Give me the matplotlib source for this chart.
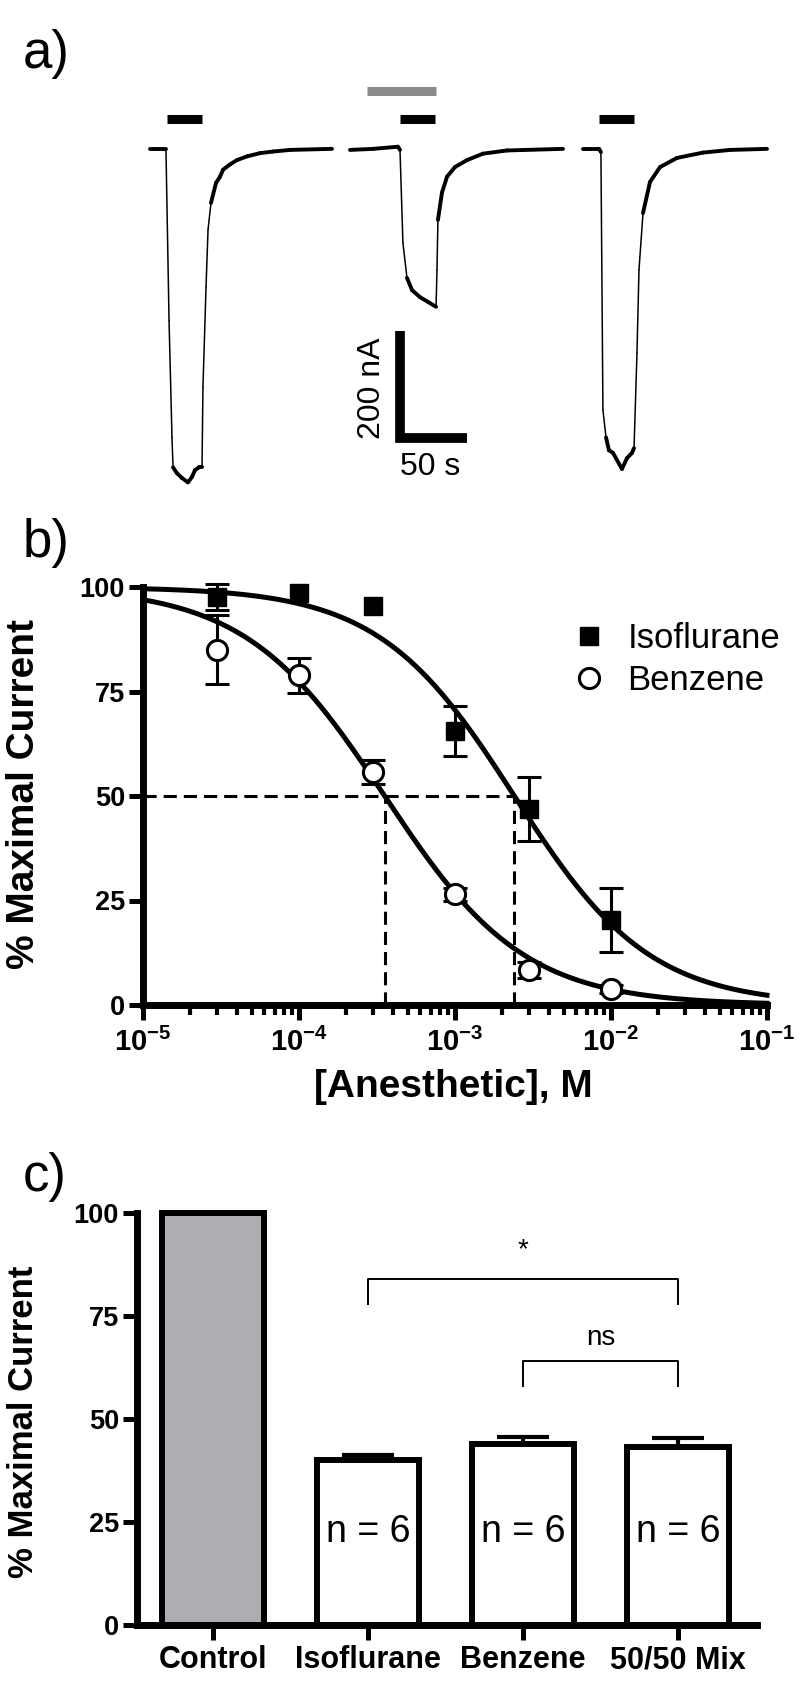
import numpy as np
import matplotlib
matplotlib.use('Agg')
import matplotlib.pyplot as plt
from matplotlib.collections import LineCollection
from matplotlib.ticker import LogLocator, NullFormatter

plt.rcParams['font.family'] = ['Liberation Sans', 'DejaVu Sans']
plt.rcParams['mathtext.fontset'] = 'custom'
plt.rcParams['mathtext.rm'] = 'Liberation Sans'
plt.rcParams['mathtext.bf'] = 'Liberation Sans:bold'

# ---- panel a: current traces (time in s, current in nA) ----
trace1_t = [0, 11.9, 14.2, 16.4, 17.2, 20.1, 23.9, 28.3, 31.3, 33.6, 36.6, 38.8, 39.5,
            41.8, 43.3, 45.5, 49.2, 52.2, 54.5, 59.7, 64.9, 72.4, 82.1, 91.8, 104.4, 135.8]
trace1_i = [0, 0, -320, -539, -595, -606, -615, -623, -613, -600, -595, -595, -445,
            -258, -151, -101, -64, -52, -39, -29, -21, -14, -8, -5, -2, 0]
trace2_t = [149.2, 166.4, 185.0, 186.5, 188.7, 191.7, 195.5, 201.4, 207.4, 213.4, 214.1,
            214.8, 217.8, 221.6, 227.5, 236.5, 248.4, 266.3, 308.1]
trace2_i = [-2, 0, 4, -2, -176, -241, -264, -277, -286, -295, -226, -133, -82, -52, -34,
            -21, -9, -3, 0]
trace3_t = [323.0, 335.0, 336.4, 337.9, 340.2, 342.4, 345.4, 352.1, 355.8, 359.6, 361.1,
            363.3, 364.8, 367.8, 373.0, 380.5, 393.1, 412.5, 432.7, 460.3]
trace3_i = [0, 0, -6, -488, -539, -563, -568, -598, -578, -568, -559, -381, -226, -120,
            -62, -34, -17, -7, -2, 0]
agonist_on = [12.7, 186.5, 335.0]
agonist_off = [38.8, 212.6, 361.1]
anesthetic_on = 161.9
anesthetic_off = 213.4
scale_nA = 200
scale_s = 50

# ---- panel b: concentration-response ----
conc = [3e-5, 1e-4, 3e-4, 1e-3, 3e-3, 1e-2]
iso_mean = [97.6, 98.6, 95.5, 65.6, 46.9, 20.3]
iso_sem = [3.2, 0.0, 0.0, 6.0, 7.6, 7.7]
benz_mean = [85.0, 78.9, 55.7, 26.5, 8.4, 3.8]
benz_sem = [8.3, 4.2, 2.8, 1.5, 2.0, 1.0]
iso_ic50, iso_hill = 2.4e-3, 1.0
benz_ic50, benz_hill = 3.54e-4, 0.97
decade_ticks = [1e-5, 1e-4, 1e-3, 1e-2, 1e-1]
decade_labels = [r'$\mathbf{10^{-5}}$', r'$\mathbf{10^{-4}}$', r'$\mathbf{10^{-3}}$',
                 r'$\mathbf{10^{-2}}$', r'$\mathbf{10^{-1}}$']
pct_ticks = [0, 25, 50, 75, 100]

# ---- panel c: bar chart ----
groups = ['Control', 'Isoflurane', 'Benzene', '50/50 Mix']
bar_mean = [100, 40.0, 44.0, 43.3]
bar_sem = [0, 1.3, 1.7, 2.0]
n_labels = ['', 'n = 6', 'n = 6', 'n = 6']
sig_pairs = [(1, 3), (2, 3)]
sig_top = [84.0, 64.1]
sig_text = ['*', 'ns']
sig_text_y = [91.0, 69.7]

W, H = 800, 1688
fig = plt.figure(figsize=(W / 100, H / 100), dpi=100)


def px_axes(l, t, r, b):
    return fig.add_axes([l / W, 1 - b / H, (r - l) / W, (b - t) / H])


# panel a
ax_a = px_axes(140, 60, 780, 500)
ax_a.set_xlim(-7.46, 470.0)
ax_a.set_ylim(-656, 166)
ax_a.axis('off')
for tt, ii in [(trace1_t, trace1_i), (trace2_t, trace2_i), (trace3_t, trace3_i)]:
    pts = np.column_stack([tt, ii])
    segs = np.stack([pts[:-1], pts[1:]], axis=1)
    slope = np.abs(np.diff(ii)) / np.diff(tt)
    # fast transitions look thin in the recording, slow parts thick
    widths = np.where(slope > 20, 1.1, 2.8)
    ax_a.add_collection(LineCollection(segs, linewidths=widths, colors='black',
                                       capstyle='round'))
ax_a.hlines([55] * 3, agonist_on, agonist_off, color='black', lw=6.5)
ax_a.hlines(107.5, anesthetic_on, anesthetic_off, color='#8a8a8a', lw=6.5)
t0, i0 = 186.5, -540
ax_a.plot([t0, t0, t0 + scale_s], [i0 + scale_nA, i0, i0], color='black', lw=7,
          solid_joinstyle='miter', solid_capstyle='butt')
ax_a.text(165.6, -447, '200 nA', rotation=90, ha='center', va='center', fontsize=23)
ax_a.text(209, -595, '50 s', ha='center', va='center', fontsize=23)

# panel b
ax_b = px_axes(143, 587, 767, 1005)
ax_b.set_xscale('log')
ax_b.set_xlim(1e-5, 1e-1)
ax_b.set_ylim(0, 100)
xs = np.logspace(-5, -1, 300)
ax_b.plot(xs, 100 / (1 + (xs / iso_ic50) ** iso_hill), color='black', lw=3.6, clip_on=False)
ax_b.plot(xs, 100 / (1 + (xs / benz_ic50) ** benz_hill), color='black', lw=3.6, clip_on=False)
ax_b.plot([1e-5, iso_ic50], [50, 50], color='black', lw=2.2, dashes=(4.3, 2.3))
for ic in [benz_ic50, iso_ic50]:
    ax_b.plot([ic, ic], [0, 50], color='black', lw=2.2, dashes=(4.3, 2.3))
for mean, sem in [(iso_mean, iso_sem), (benz_mean, benz_sem)]:
    keep = [k for k in range(len(conc)) if sem[k] > 0]
    ax_b.errorbar([conc[k] for k in keep], [mean[k] for k in keep],
                  yerr=[sem[k] for k in keep], fmt='none', ecolor='black',
                  elinewidth=2.2, capsize=8.6, capthick=2.2, clip_on=False)
ax_b.plot(conc, iso_mean, 's', color='black', ms=13, label='Isoflurane', clip_on=False, zorder=5)
ax_b.plot(conc, benz_mean, 'o', mfc='white', mec='black', mew=2.2, ms=14.5,
          label='Benzene', clip_on=False, zorder=5)
for s in ['top', 'right']:
    ax_b.spines[s].set_visible(False)
for s in ['left', 'bottom']:
    ax_b.spines[s].set_linewidth(5)
    ax_b.spines[s].set_capstyle('projecting')
ax_b.set_yticks(pct_ticks)
ax_b.set_yticklabels([str(v) for v in pct_ticks], fontweight='bold', fontsize=19.5)
ax_b.set_xticks(decade_ticks)
ax_b.set_xticklabels(decade_labels, fontsize=21)
ax_b.xaxis.set_minor_locator(LogLocator(base=10, subs=np.arange(2, 10)))
ax_b.xaxis.set_minor_formatter(NullFormatter())
ax_b.tick_params(axis='y', length=10, width=3.6, pad=3)
ax_b.tick_params(axis='x', which='major', length=10.5, width=3.6, pad=6)
ax_b.tick_params(axis='x', which='minor', length=7, width=3.0)
ax_b.set_ylabel('% Maximal Current', fontsize=28, fontweight='bold')
ax_b.yaxis.set_label_coords(-0.162, 0.505)
ax_b.set_xlabel('[Anesthetic], M', fontsize=28, fontweight='bold')
ax_b.xaxis.label.set_va('center')
ax_b.xaxis.set_label_coords(0.497, -0.196)
ax_b.legend(loc='upper left', bbox_to_anchor=(572 / W, 1 - 622 / H),
            bbox_transform=fig.transFigure, frameon=False, fontsize=25, numpoints=1,
            handlelength=1.0, handletextpad=0.6, labelspacing=0.26, borderpad=0,
            borderaxespad=0)

# panel c
ax_c = px_axes(137, 1213, 757, 1625)
xpos = np.arange(len(groups))
ax_c.set_xlim(-0.49, 3.51)
ax_c.set_ylim(0, 100)
ax_c.bar(xpos, bar_mean, width=0.66, color=['#adadb3', 'white', 'white', 'white'],
         edgecolor='black', linewidth=4.3, clip_on=False, zorder=2)
ax_c.errorbar(xpos[1:], bar_mean[1:], yerr=[[0] * 3, bar_sem[1:]], fmt='none',
              ecolor='black', elinewidth=3, capsize=19, capthick=3, zorder=1)
for x, lab in zip(xpos, n_labels):
    if lab:
        ax_c.text(x, 22.6, lab, ha='center', va='center', fontsize=27, zorder=3)
for (a, b), top, txt, ty in zip(sig_pairs, sig_top, sig_text, sig_text_y):
    ax_c.plot([a, a, b, b], [top - 6, top, top, top - 6], color='black', lw=1.4)
    ax_c.text((a + b) / 2, ty, txt, ha='center', va='center', fontsize=20)
for s in ['top', 'right']:
    ax_c.spines[s].set_visible(False)
for s in ['left', 'bottom']:
    ax_c.spines[s].set_linewidth(5)
    ax_c.spines[s].set_capstyle('projecting')
ax_c.set_yticks(pct_ticks)
ax_c.set_yticklabels([str(v) for v in pct_ticks], fontweight='bold', fontsize=19.5)
ax_c.set_xticks(xpos)
ax_c.set_xticklabels(groups, fontweight='bold', fontsize=22)
ax_c.tick_params(axis='y', length=10, width=3.6, pad=3)
ax_c.tick_params(axis='x', length=10.5, width=3.6, pad=4)
ax_c.set_ylabel('% Maximal Current', fontsize=25, fontweight='bold')
ax_c.yaxis.set_label_coords(-0.156, 0.493)

# panel letters
fig.text(23 / W, 1 - 54 / H, 'a)', fontsize=38, ha='left', va='center')
fig.text(23 / W, 1 - 543 / H, 'b)', fontsize=38, ha='left', va='center')
fig.text(23 / W, 1 - 1177 / H, 'c)', fontsize=38, ha='left', va='center')

fig.savefig('out.png', dpi=100)
